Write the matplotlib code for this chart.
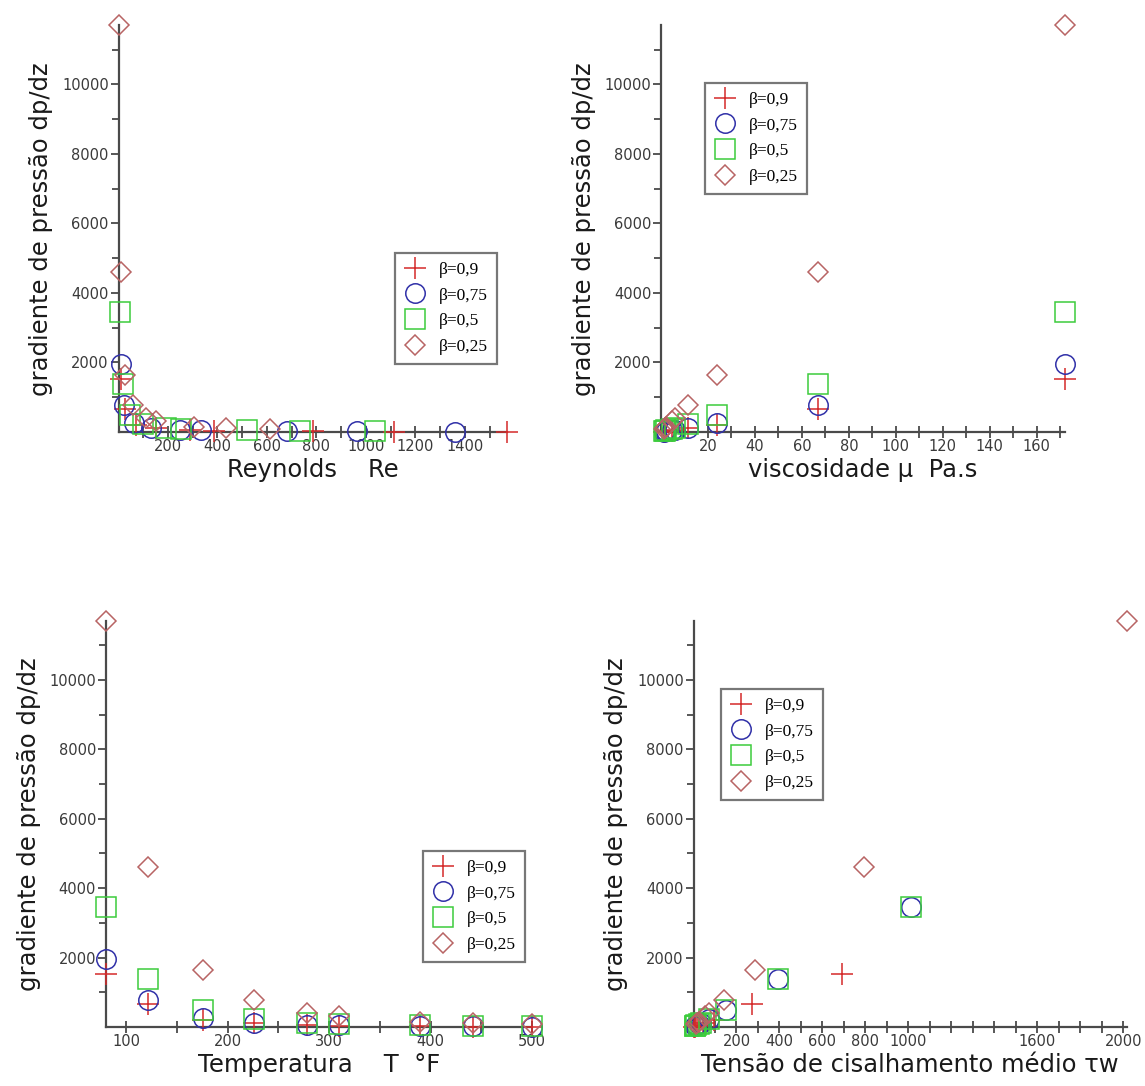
"""
Gradiente de pressao vs Re, viscosidade, temperatura e tensao de cisalhamento
for four values of beta (Maple-style scatter panels)
"""

import numpy as np
import matplotlib
matplotlib.use("Agg")
import matplotlib.pyplot as plt
from matplotlib.ticker import FixedLocator

### Data: 9 temperatures
temp_F = [80, 122, 176, 226, 278, 310, 390, 442, 500]
visc = [172, 67, 24, 11.5, 6.0, 4.5, 2.2, 1.55, 1.1]

dp_09 = [1520, 660, 215, 102, 53, 40, 20, 14, 10]
dp_075 = [1950, 790, 270, 128, 67, 50, 25, 17, 12]
dp_05 = [3450, 1380, 490, 230, 120, 90, 45, 31, 22]
dp_025 = [11700, 4600, 1650, 780, 410, 305, 150, 105, 75]

re_09 = [10, 26, 72, 150, 288, 384, 785, 1114, 1570]
re_075 = [8.7, 22, 62, 130, 250, 332, 680, 963, 1360]
re_05 = [6.6, 17, 48, 99, 190, 254, 519, 735, 1037]
re_025 = [3.9, 10, 28, 59, 113, 150, 307, 435, 612]

tau_09 = [693, 274, 97, 46, 24, 18, 9, 6.3, 4.5]
tau_05 = [1010, 395, 150, 70, 36, 27, 13, 9, 6.5]
tau_025 = [2014, 795, 288, 140, 72, 53, 26, 18, 13]
# in the tau panel the beta=0.75 circles lie on the beta=0.5 squares
tau_075 = tau_05
dp_075_tau = dp_05

labels = ["β=0,9", "β=0,75", "β=0,5", "β=0,25"]

### Marker styles (Maple defaults: cross, circle, box, diamond)
markers = ["+", "o", "s", "D"]
colors = ["#d42a2a", "#3030a8", "#3ccc3c", "#b86464"]
msizes = [16, 14, 15, 10.5]

W, H = 1145, 1086
fs_lab = 17.5
fs_t = 10.5
ax_col = "#4a4a4a"


def px_axes(x0, x1, y_top, y_bot):
    """ pixel box (from the top-left corner of the picture) -> figure fraction """
    return [x0 / W, 1 - y_bot / H, (x1 - x0) / W, (y_bot - y_top) / H]


def plot_panel(fig, box, xs, ys, xlim, xmajor, xminor, xlabel, leg_pos,
               ylim=(0, 11700)):
    ax = fig.add_axes(px_axes(*box))

    order = [2, 3, 1, 0]  # crosses on top
    handles = [None] * 4
    for i in order:
        h, = ax.plot(xs[i], ys[i], ls="none", marker=markers[i], ms=msizes[i],
                     mfc="none", mec=colors[i], mew=1.1, clip_on=False,
                     label=labels[i], zorder=3 + i)
        handles[i] = h

    ax.set_xlim(xlim)
    ax.set_ylim(ylim)

    ### Maple-like axes: only left and bottom lines
    for s in ["top", "right"]:
        ax.spines[s].set_visible(False)
    for s in ["left", "bottom"]:
        ax.spines[s].set_color(ax_col)
        ax.spines[s].set_linewidth(1.6)

    ax.xaxis.set_major_locator(FixedLocator(xmajor))
    ax.xaxis.set_minor_locator(FixedLocator(xminor))
    ax.yaxis.set_major_locator(FixedLocator([2000, 4000, 6000, 8000, 10000]))
    ax.yaxis.set_minor_locator(FixedLocator([1000, 3000, 5000, 7000, 9000, 11000]))
    ax.tick_params(which="both", direction="out", color=ax_col, width=1.3,
                   labelsize=fs_t, labelcolor="#3a3a3a", pad=1)
    ax.tick_params(which="major", length=6)
    ax.tick_params(which="minor", length=5)
    ax.tick_params(axis="x", which="both", direction="inout", length=8)

    ax.set_xlabel(xlabel, fontsize=fs_lab, color="#1a1a1a", labelpad=3)
    ax.set_ylabel("gradiente de pressão dp/dz", fontsize=fs_lab, color="#1a1a1a")
    ax_w = box[1] - box[0]
    ax.yaxis.set_label_coords(-65 / ax_w, 0.5)

    leg = ax.legend(handles=handles, loc="upper left",
                    bbox_to_anchor=(leg_pos[0] / W, 1 - leg_pos[1] / H),
                    bbox_transform=fig.transFigure,
                    prop={"family": "Liberation Serif", "size": 12.5},
                    frameon=True, fancybox=False, borderpad=0.5,
                    handlelength=1.3, handletextpad=0.75, labelspacing=0.55,
                    borderaxespad=0)
    leg.get_frame().set_edgecolor("#555555")
    leg.get_frame().set_linewidth(1.6)
    return ax


fig = plt.figure(figsize=(W / 100, H / 100), dpi=100)

# Reynolds
plot_panel(fig, (118.5, 507, 25.4, 432),
           [re_09, re_075, re_05, re_025],
           [dp_09, dp_075, dp_05, dp_025],
           (0, 1570), np.arange(200, 1401, 200), np.arange(100, 1600, 100),
           "Reynolds    Re", (395, 253))

# viscosidade
plot_panel(fig, (661, 1065, 25.4, 432),
           [visc] * 4,
           [dp_09, dp_075, dp_05, dp_025],
           (0, 172), np.arange(20, 161, 20), np.arange(10, 171, 10),
           "viscosidade μ  Pa.s", (705, 83))

# temperatura
plot_panel(fig, (105.7, 532, 621, 1027),
           [temp_F] * 4,
           [dp_09, dp_075, dp_05, dp_025],
           (80, 500), np.arange(100, 501, 100), np.arange(150, 500, 100),
           "Temperatura    T  °F", (423, 851))

# tensao de cisalhamento
plot_panel(fig, (693.5, 1126.5, 621, 1027),
           [tau_09, tau_075, tau_05, tau_025],
           [dp_09, dp_075_tau, dp_05, dp_025],
           (0, 2014), [200, 400, 600, 800, 1000, 1600, 2000],
           np.arange(100, 2001, 100),
           "Tensão de cisalhamento médio τw", (721, 689))

plt.savefig("out.png", dpi=100)
